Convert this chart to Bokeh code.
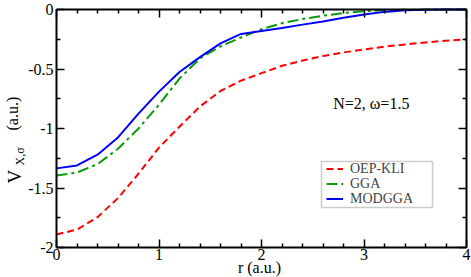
import math
from bokeh.plotting import figure
from bokeh.models import (FixedTicker, LinearAxis, Label, Legend, LegendItem, Range1d, BoxAnnotation)
from bokeh.embed import file_html
from bokeh.resources import INLINE

# ---- data ----
r = [0.0, 0.2, 0.4, 0.6, 0.8, 1.0, 1.2, 1.4, 1.6, 1.8, 2.0,
     2.2, 2.4, 2.6, 2.8, 3.0, 3.2, 3.4, 3.6, 3.8, 4.0]
oep_kli = [-1.89, -1.85, -1.745, -1.585, -1.38, -1.16, -0.985, -0.815, -0.685, -0.598, -0.535,
           -0.473, -0.429, -0.391, -0.361, -0.336, -0.312, -0.294, -0.277, -0.262, -0.25]
gga = [-1.395, -1.37, -1.30, -1.17, -1.0, -0.80, -0.58, -0.41, -0.31, -0.235, -0.165,
       -0.115, -0.08, -0.052, -0.03, -0.015, -0.007, -0.003, -0.001, 0.0, 0.0]
modgga = [-1.335, -1.31, -1.22, -1.075, -0.875, -0.69, -0.525, -0.40, -0.285, -0.205, -0.18,
          -0.155, -0.127, -0.10, -0.07, -0.042, -0.02, -0.007, -0.003, -0.001, 0.0]

series_names = ["OEP-KLI", "GGA", "MODGGA"]

x_min, x_max = 0, 4
y_min, y_max = -2, 0
x_ticks = [0, 1, 2, 3, 4]
x_tick_labels = ["0", "1", "2", "3", "4"]
x_minor = [0.2, 0.4, 0.6, 0.8, 1.2, 1.4, 1.6, 1.8, 2.2, 2.4, 2.6, 2.8, 3.2, 3.4, 3.6, 3.8]
y_ticks = [0, -0.5, -1, -1.5, -2]
y_tick_labels = ["0", "-0.5", "-1", "-1.5", "-2"]
y_minor = [-0.25, -0.75, -1.25, -1.75]

annotation = "N=2, \u03c9=1.5"
annotation_pos = (2.7, -0.79)
x_label = "r (a.u.)"
y_label_parts = ["V", "X,\u03c3", "(a.u.)"]

FONT = "'Liberation Serif', 'Times New Roman', serif"

W, H = 471, 277
# plot box in pixels inside the canvas (frame fills the canvas; axes are pinned to the box)
BOX_L, BOX_R, BOX_T, BOX_B = 56, 466, 9, 247
sx = (BOX_R - BOX_L) / (x_max - x_min)
sy = (BOX_B - BOX_T) / (y_max - y_min)
xr = Range1d(x_min - BOX_L / sx, x_max + (W - BOX_R) / sx)
yr_ = Range1d(y_min - (H - BOX_B) / sy, y_max + BOX_T / sy)

p = figure(width=W, height=H, output_backend="svg", toolbar_location=None,
           x_range=xr, y_range=yr_, min_border=0,
           x_axis_location=None, y_axis_location=None)
p.grid.visible = False
p.background_fill_color = "white"
p.border_fill_color = "white"
p.outline_line_color = None

xt = FixedTicker(ticks=x_ticks, minor_ticks=x_minor)
yt = FixedTicker(ticks=y_ticks, minor_ticks=y_minor)

def make_axis(ticker, labels, ticks, loc, bounds):
    ax = LinearAxis(ticker=ticker, fixed_location=loc, bounds=bounds)
    ax.major_tick_in = 8
    ax.major_tick_out = 0
    ax.minor_tick_in = 4
    ax.minor_tick_out = 0
    ax.major_tick_line_width = 1.5
    ax.minor_tick_line_width = 1.5
    ax.axis_line_width = 2
    ax.major_label_text_font = FONT
    ax.major_label_text_color = "black"
    ax.major_label_text_font_size = "16px"
    if labels is not None:
        ax.major_label_overrides = {t: s for t, s in zip(ticks, labels)}
    else:
        ax.major_label_overrides = {t: "" for t in ticks}
        ax.major_label_standoff = 0
    return ax

xb = make_axis(xt, x_tick_labels, x_ticks, y_min, (x_min, x_max))
xb.major_label_standoff = 1
p.add_layout(xb, "below")
p.add_layout(make_axis(xt, None, x_ticks, y_max, (x_min, x_max)), "above")
yl = make_axis(yt, y_tick_labels, y_ticks, x_min, (y_min, y_max))
yl.major_label_standoff = 3
p.add_layout(yl, "left")
p.add_layout(make_axis(yt, None, y_ticks, x_max, (y_min, y_max)), "right")

r1 = p.line(r, oep_kli, line_color="#ff0000", line_width=2, line_dash="7 4")
r2 = p.line(r, gga, line_color="#0a9a0a", line_width=2, line_dash="11 4 3 4")
r3 = p.line(r, modgga, line_color="#0000ff", line_width=2)

# legend frame (screen units, from the bottom-left of the canvas-filling frame)
p.add_layout(BoxAnnotation(left=321, right=432, bottom=70, top=116,
                           left_units="screen", right_units="screen",
                           bottom_units="screen", top_units="screen",
                           fill_color="white", fill_alpha=1.0,
                           line_color="#555555", line_width=1.5))

row_bottoms = [100.5, 85.5, 70.5]
for name, rr, yb in zip(series_names, [r1, r2, r3], row_bottoms):
    lg = Legend(items=[LegendItem(label=name, renderers=[rr])], location=(326, yb))
    lg.label_text_font = FONT
    lg.label_text_font_size = "14px"
    lg.label_height = 15
    lg.glyph_height = 15
    lg.glyph_width = 17
    lg.spacing = 0
    lg.padding = 0
    lg.margin = 0
    lg.label_standoff = 7
    lg.border_line_color = None
    lg.background_fill_alpha = 0.0
    p.add_layout(lg, "center")

p.add_layout(Label(x=annotation_pos[0], y=annotation_pos[1], text=annotation,
                   text_font=FONT, text_font_size="16px", text_baseline="middle",
                   text_align="left", text_color="black"))

# y-axis label V_{X,sigma} (a.u.), rotated
part_x = [14, 19, 12]
part_y = [94, 112, 147]
part_size = ["19px", "12px", "16px"]
for txt, xx, yy, fs in zip(y_label_parts, part_x, part_y, part_size):
    p.add_layout(Label(x=xx, y=yy, x_units="screen", y_units="screen", text=txt,
                       angle=math.pi / 2, text_font=FONT, text_font_size=fs,
                       text_align="left", text_baseline="alphabetic", text_color="black"))
# x-axis label
p.add_layout(Label(x=(BOX_L + BOX_R) / 2 - 2, y=10, x_units="screen", y_units="screen", text=x_label,
                   text_font=FONT, text_font_size="16px",
                   text_align="center", text_baseline="alphabetic", text_color="black"))

open("out.html", "w").write(file_html(p, INLINE))
